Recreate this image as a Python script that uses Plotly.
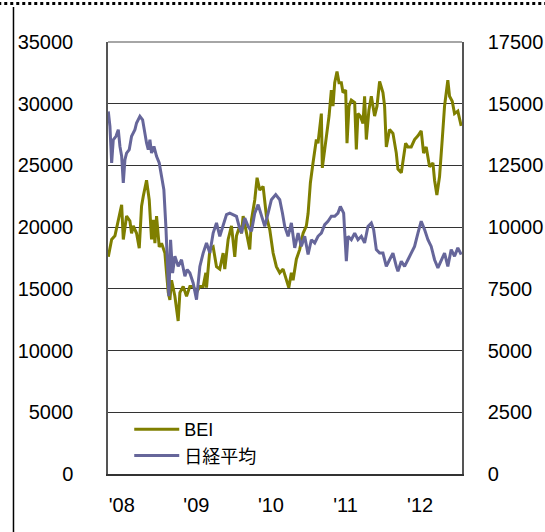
import plotly.graph_objects as go

# BEI (left axis)
bei_t = [2008.009, 2008.054, 2008.098, 2008.143, 2008.188, 2008.210, 2008.254, 2008.299, 2008.321, 2008.344,
         2008.388, 2008.424, 2008.455, 2008.478, 2008.522, 2008.558, 2008.589, 2008.612, 2008.634, 2008.656,
         2008.692, 2008.723, 2008.768, 2008.790, 2008.813, 2008.835, 2008.857, 2008.902, 2008.946, 2008.969,
         2009.013, 2009.058, 2009.103, 2009.147, 2009.192, 2009.237, 2009.281, 2009.317, 2009.326, 2009.371,
         2009.415, 2009.460, 2009.504, 2009.549, 2009.571, 2009.616, 2009.661, 2009.705, 2009.728, 2009.772,
         2009.795, 2009.817, 2009.862, 2009.906, 2009.929, 2009.973, 2010.004, 2010.040, 2010.085, 2010.129,
         2010.174, 2010.219, 2010.263, 2010.308, 2010.353, 2010.397, 2010.429, 2010.464, 2010.487, 2010.531,
         2010.576, 2010.621, 2010.665, 2010.688, 2010.719, 2010.754, 2010.777, 2010.799, 2010.821, 2010.844,
         2010.866, 2010.879, 2010.911, 2010.933, 2010.969, 2011.000, 2011.022, 2011.045, 2011.076, 2011.103,
         2011.134, 2011.156, 2011.192, 2011.210, 2011.237, 2011.268, 2011.313, 2011.335, 2011.357, 2011.388,
         2011.424, 2011.446, 2011.469, 2011.504, 2011.536, 2011.580, 2011.612, 2011.647, 2011.692, 2011.714,
         2011.737, 2011.781, 2011.826, 2011.871, 2011.893, 2011.938, 2011.969, 2011.996, 2012.027, 2012.071,
         2012.116, 2012.161, 2012.205, 2012.237, 2012.272, 2012.317, 2012.362, 2012.384, 2012.415, 2012.451,
         2012.487, 2012.518, 2012.562, 2012.585, 2012.621, 2012.652, 2012.696, 2012.741]
bei_v = [17600, 19000, 19300, 20600, 21800, 19000, 20900, 20500, 19500, 20100,
         19500, 18300, 21700, 22500, 23800, 22200, 19000, 20600, 18700, 20900,
         18400, 18700, 17900, 16300, 14700, 14100, 15700, 14400, 12400, 14700,
         15200, 14400, 15200, 15200, 14700, 15200, 15200, 16300, 15100, 18200,
         18400, 16800, 16600, 17900, 16600, 19000, 20100, 17600, 19300, 20100,
         19500, 20900, 19500, 18200, 20600, 22200, 24000, 23000, 23300, 20900,
         19800, 17900, 16800, 16300, 16600, 15700, 15100, 16300, 15700, 17400,
         18200, 19500, 20100, 21100, 23600, 25200, 26000, 27100, 26800, 28200,
         29200, 24800, 26300, 27100, 29000, 31100, 29800, 31700, 32600, 31700,
         31700, 30900, 31100, 26800, 29800, 30300, 30100, 26300, 29200, 29000,
         28400, 30600, 27100, 29500, 30600, 29000, 29800, 31800, 30900, 29800,
         26500, 27900, 27600, 26000, 24700, 24400, 25500, 26800, 26500, 26500,
         27100, 27400, 27800, 26000, 26500, 24900, 25200, 23800, 22600, 24100,
         27100, 29800, 31900, 30600, 30200, 29200, 29400, 28200]

# Nikkei 225 (right axis)
nk_t = [2008.009, 2008.031, 2008.054, 2008.076, 2008.112, 2008.143, 2008.165, 2008.188, 2008.210, 2008.232,
        2008.254, 2008.290, 2008.321, 2008.366, 2008.388, 2008.433, 2008.469, 2008.500, 2008.522, 2008.545,
        2008.567, 2008.589, 2008.621, 2008.656, 2008.692, 2008.723, 2008.754, 2008.781, 2008.799, 2008.821,
        2008.844, 2008.871, 2008.902, 2008.946, 2008.991, 2009.036, 2009.067, 2009.103, 2009.147, 2009.192,
        2009.237, 2009.281, 2009.326, 2009.371, 2009.415, 2009.460, 2009.504, 2009.549, 2009.594, 2009.638,
        2009.683, 2009.728, 2009.763, 2009.795, 2009.839, 2009.884, 2009.929, 2009.973, 2010.018, 2010.063,
        2010.107, 2010.152, 2010.196, 2010.254, 2010.308, 2010.344, 2010.375, 2010.420, 2010.464, 2010.509,
        2010.554, 2010.598, 2010.643, 2010.688, 2010.732, 2010.777, 2010.821, 2010.866, 2010.911, 2010.955,
        2011.000, 2011.045, 2011.089, 2011.121, 2011.165, 2011.201, 2011.223, 2011.268, 2011.313, 2011.357,
        2011.402, 2011.446, 2011.491, 2011.536, 2011.567, 2011.603, 2011.647, 2011.692, 2011.737, 2011.781,
        2011.826, 2011.871, 2011.893, 2011.938, 2011.982, 2012.027, 2012.071, 2012.116, 2012.161, 2012.205,
        2012.250, 2012.295, 2012.339, 2012.384, 2012.429, 2012.473, 2012.518, 2012.562, 2012.607, 2012.652,
        2012.696, 2012.741]
nk_v = [14690, 14080, 12600, 13540, 13680, 13950, 13270, 12870, 11790, 12730,
        13000, 13140, 13680, 13950, 14220, 14490, 14350, 13680, 13410, 13140,
        13540, 13000, 13270, 12870, 12600, 12060, 11520, 10030, 8410, 7200,
        9490, 8140, 8820, 8410, 8680, 8010, 8280, 8140, 7740, 7060,
        8410, 8950, 9360, 8950, 9760, 10170, 9630, 10030, 10510, 10570,
        10510, 10440, 10030, 9760, 10370, 10030, 9830, 10570, 10910, 10440,
        10030, 10570, 11110, 11320, 11110, 10570, 10030, 9630, 10170, 9160,
        9760, 9220, 9630, 8890, 9490, 9360, 9630, 9760, 10100, 10240,
        10440, 10440, 10570, 10840, 10570, 8620, 9630, 9490, 9760, 9490,
        9630, 9360, 10030, 10170, 9900, 9090, 8950, 8950, 8410, 8680,
        8950, 8410, 8210, 8620, 8410, 8680, 8950, 9220, 9760, 10240,
        9900, 9490, 9220, 8680, 8350, 8680, 8950, 8410, 9090, 8820,
        9160, 8890]

left_ticks = [0, 5000, 10000, 15000, 20000, 25000, 30000, 35000]
right_ticks = [0, 2500, 5000, 7500, 10000, 12500, 15000, 17500]
x_tick_pos = [2008.19, 2009.19, 2010.19, 2011.19, 2012.19]
x_tick_text = ["'08", "'09", "'10", "'11", "'12"]

NUM_FONT = "Liberation Sans, Arial, sans-serif"
LEG_FONT = "Liberation Sans, Noto Sans CJK JP, sans-serif"

fig = go.Figure()
fig.add_trace(go.Scatter(x=bei_t, y=bei_v, name="BEI", mode="lines",
                         line=dict(color="#7f7f00", width=3)))
fig.add_trace(go.Scatter(x=nk_t, y=nk_v, name="日経平均", mode="lines", yaxis="y2",
                         line=dict(color="#66669a", width=3)))

fig.update_layout(
    width=545, height=532,
    margin=dict(l=108, r=83, t=42, b=58, autoexpand=False),
    paper_bgcolor="white", plot_bgcolor="white",
    font=dict(family=NUM_FONT, size=20, color="black"),
    showlegend=True,
    legend=dict(x=0.06, y=0.0, xanchor="left", yanchor="bottom",
                bgcolor="rgba(0,0,0,0)", font=dict(size=18, family=LEG_FONT),
                itemwidth=45, tracegroupgap=0),
    xaxis=dict(range=[2008.005, 2012.752], tickvals=x_tick_pos, ticktext=x_tick_text,
               showgrid=False, zeroline=False, showline=True, linecolor="#333333", linewidth=1.5,
               mirror=False, ticks="", ticklabelstandoff=12),
    yaxis=dict(range=[0, 35000], tickvals=left_ticks, ticktext=[str(v) for v in left_ticks],
               showgrid=True, gridcolor="#333333", gridwidth=1, zeroline=False,
               showline=True, linecolor="#555555", linewidth=1.5, ticks="",
               ticklabelstandoff=29),
    yaxis2=dict(range=[0, 17500], tickvals=right_ticks, ticktext=[str(v) for v in right_ticks],
                overlaying="y", side="right", showgrid=False, zeroline=False,
                showline=True, linecolor="#555555", linewidth=1.5, ticks="",
                ticklabelstandoff=20),
)

# top border of plot area
fig.add_shape(type="line", xref="paper", yref="paper", x0=0, x1=1, y0=1, y1=1,
              line=dict(color="#888888", width=1.5))
# decorative page frame: dotted top rule and left rule
fig.add_shape(type="line", xref="paper", yref="paper", x0=-0.31, x1=1.24, y0=1.089, y1=1.089,
              line=dict(color="black", width=3, dash="dot"))
fig.add_shape(type="line", xref="paper", yref="paper", x0=-0.267, x1=-0.267, y0=1.081, y1=-0.14,
              line=dict(color="black", width=1.5))

fig.write_html("out.html", config={"displayModeBar": False},
               post_script="document.body.style.margin='0px';document.body.style.overflow='hidden';")
